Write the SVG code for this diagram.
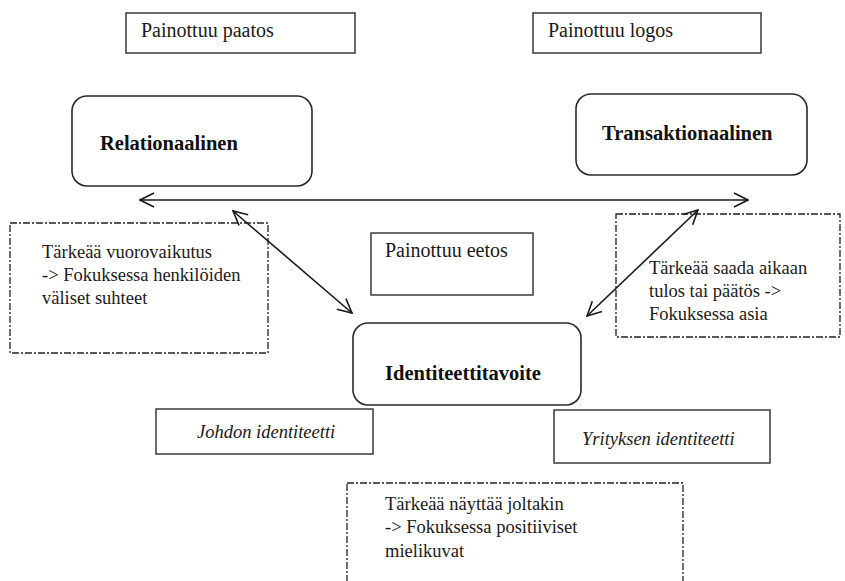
<svg xmlns="http://www.w3.org/2000/svg" width="845" height="581" viewBox="0 0 845 581">
<defs>
<style>
.box{fill:#fff;stroke:#3a3a3a;stroke-width:1.5}
.rbox{fill:#fff;stroke:#2a2a2a;stroke-width:1.6}
.dash{fill:#fff;stroke:#222;stroke-width:1.3;stroke-dasharray:7 2 2 2}
text{font-family:'Liberation Serif','Times New Roman',Times,'DejaVu Serif',serif;fill:#1a1a1a}
.t{font-size:18.5px}
.lbl{font-size:20px}
.b{font-size:20.5px;font-weight:bold;fill:#111}
.i{font-size:18.5px;font-style:italic}
.conn{stroke:#1a1a1a;stroke-width:1.6;fill:none}
</style>
<marker id="ah" viewBox="0 0 16 16" refX="15" refY="8" markerWidth="16" markerHeight="16" markerUnits="userSpaceOnUse" orient="auto-start-reverse">
<path d="M1,1 L15,8 L1,15" fill="none" stroke="#1a1a1a" stroke-width="1.6"/>
</marker>
</defs>
<rect width="845" height="581" fill="#fff"/>

<g id="painottuu-paatos">
<rect class="box" x="126" y="13" width="229" height="40"/>
<text class="lbl" x="141" y="37">Painottuu paatos</text>
</g>
<g id="painottuu-logos">
<rect class="box" x="533" y="13" width="228" height="40"/>
<text class="lbl" x="548" y="37">Painottuu logos</text>
</g>
<g id="relationaalinen">
<rect class="rbox" x="72" y="96" width="240" height="90" rx="15"/>
<text class="b" x="100" y="150">Relationaalinen</text>
</g>
<g id="transaktionaalinen">
<rect class="rbox" x="576" y="94" width="231" height="81" rx="15"/>
<text class="b" x="602" y="140">Transaktionaalinen</text>
</g>
<g id="vuorovaikutus">
<rect class="dash" x="10" y="223" width="258" height="130"/>
<text class="t" x="42" y="258">Tärkeää vuorovaikutus</text>
<text class="t" x="42" y="281">-&gt; Fokuksessa henkilöiden</text>
<text class="t" x="42" y="304">väliset suhteet</text>
</g>
<g id="painottuu-eetos">
<rect class="box" x="371" y="233" width="162" height="62"/>
<text class="lbl" x="385" y="257">Painottuu eetos</text>
</g>
<g id="tulos">
<rect class="dash" x="616" y="214" width="224" height="123"/>
<text class="t" x="649" y="274">Tärkeää saada aikaan</text>
<text class="t" x="649" y="297">tulos tai päätös -&gt;</text>
<text class="t" x="649" y="320">Fokuksessa asia</text>
</g>
<g id="identiteettitavoite">
<rect class="rbox" x="353" y="323" width="228" height="82" rx="15"/>
<text class="b" x="385" y="380">Identiteettitavoite</text>
</g>
<g id="johdon-identiteetti">
<rect class="box" x="156" y="409" width="217" height="45"/>
<text class="i" x="197" y="438">Johdon identiteetti</text>
</g>
<g id="yrityksen-identiteetti">
<rect class="box" x="554" y="410" width="216" height="53"/>
<text class="i" x="582" y="445">Yrityksen identiteetti</text>
</g>
<g id="nayttaa">
<rect class="dash" x="347" y="483" width="336" height="110"/>
<text class="t" x="385" y="510">Tärkeää näyttää joltakin</text>
<text class="t" x="385" y="533">-&gt; Fokuksessa positiiviset</text>
<text class="t" x="385" y="557">mielikuvat</text>
</g>

<g id="connectors">
<line class="conn" x1="140" y1="200" x2="748" y2="200" marker-start="url(#ah)" marker-end="url(#ah)"/>
<line class="conn" x1="233" y1="211" x2="352" y2="313" marker-start="url(#ah)" marker-end="url(#ah)"/>
<line class="conn" x1="698" y1="210" x2="587" y2="316" marker-start="url(#ah)" marker-end="url(#ah)"/>
</g>
</svg>
